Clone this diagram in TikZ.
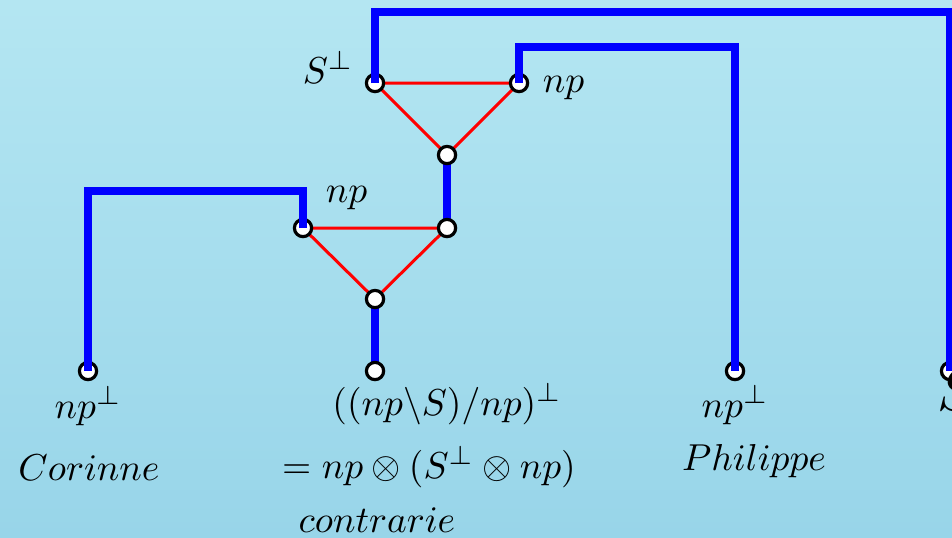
\documentclass[tikz,border=0pt]{standalone}
\usepackage{amsmath,amssymb}
\usetikzlibrary{positioning, calc}
\definecolor{bgtop}{RGB}{180,230,242}
\definecolor{bgbot}{RGB}{152,213,233}

\begin{document}
\begin{tikzpicture}[x=0.2667pt, y=-0.2667pt,
    vert/.style={circle, draw=black, fill=white, line width=0.85pt, inner sep=0pt, minimum size=4.6pt},
    axlink/.style={blue, line width=1.95pt},
    tens/.style={red, line width=0.8pt},
    lbl/.style={inner sep=0pt}]
    % Background
    \shade[top color=bgtop, bottom color=bgbot] (0,0) rectangle (952,537);
    \useasboundingbox (0,0) rectangle (952,537);

    % Vertex positions
    \coordinate (s1) at (375,83);  \coordinate (np1) at (519,83);
    \coordinate (t1) at (447,155); \coordinate (t2) at (447,228);
    \coordinate (np2) at (303,228); \coordinate (t3) at (375,299);
    \coordinate (con) at (375,371); \coordinate (cor) at (88,371);
    \coordinate (phi) at (735,371); \coordinate (sr) at (950,371);

    % Tensor links and tree edges
    \draw[tens] (s1) -- (np1) -- (t1) -- cycle;
    \draw[tens] (np2) -- (t2) -- (t3) -- cycle;
    \draw[axlink] (t1) -- (t2);
    \draw[axlink] (t3) -- (con);

    % Vertices
    \foreach \v in {s1, np1, t1, t2, np2, t3, con, cor, phi, sr}
        \node[vert] (v-\v) at (\v) {};

    % Axiom links
    \draw[axlink] (v-s1.center) |- (950,12) -| (v-sr.center);
    \draw[axlink] (v-np1.center) |- (735,47) -| (v-phi.center);
    \draw[axlink] (v-np2.center) |- (88,191) -| (v-cor.center);

    % Labels
    \node[lbl, anchor=base east] (l-s1) at (354,83) {$S^\perp$};
    \node[lbl, anchor=base west] (l-np1) at (542,92) {$np$};
    \node[lbl, anchor=base west] (l-np2) at (325,202) {$np$};
    \node[lbl, anchor=base] (l-cor) at (88,418) {$np^\perp$};
    \node[lbl, anchor=base] (w-cor) at (89,480) {$Corinne$};
    \node[lbl, anchor=base] (l-con) at (447,415) {$((np\backslash S)/np)^\perp$};
    \node[lbl, anchor=base] (e-con) at (429,478) {$= np\otimes(S^\perp\otimes np)$};
    \node[lbl, anchor=base] (w-con) at (377,532) {$contrarie$};
    \node[lbl, anchor=base] (l-phi) at (735,417) {$np^\perp$};
    \node[lbl, anchor=base] (w-phi) at (754,470) {$Philippe$};
    \node[lbl, anchor=base west, scale=1.6] (l-sr) at (936,410) {$S$};
\end{tikzpicture}
\end{document}
